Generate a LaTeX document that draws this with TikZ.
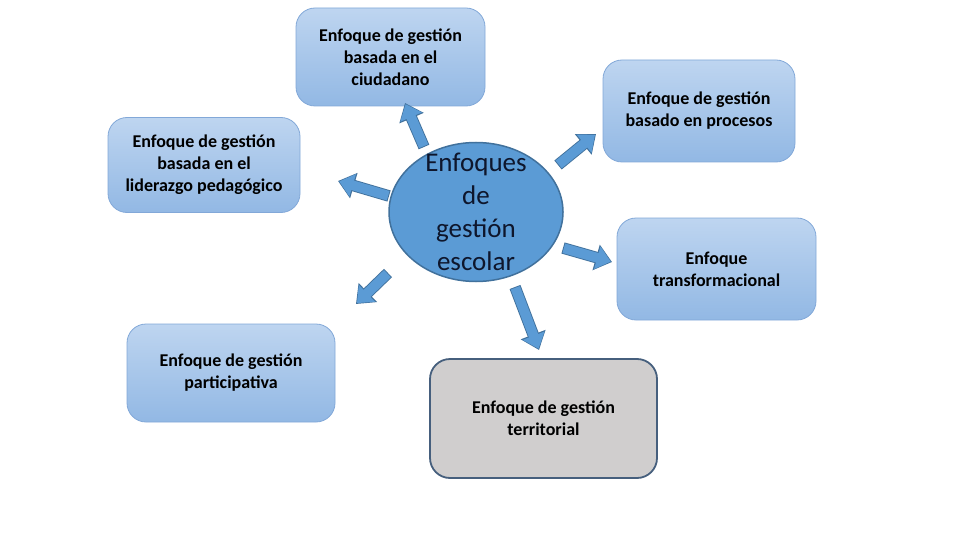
\documentclass[tikz,border=0pt]{standalone}
\usepackage{fontspec}
\setmainfont{Carlito}
\usetikzlibrary{arrows.meta,shapes.geometric}
\definecolor{boxtop}{RGB}{190,213,240}
\definecolor{boxbot}{RGB}{146,184,228}
\definecolor{boxline}{RGB}{130,168,216}
\definecolor{hubfill}{RGB}{91,155,213}
\definecolor{hubline}{RGB}{65,113,156}
\definecolor{hubtext}{RGB}{14,22,44}
\definecolor{grayfill}{RGB}{208,206,206}
\definecolor{grayline}{RGB}{70,95,125}

\begin{document}
\begin{tikzpicture}[x=1pt, y=-1pt,
  every node/.style={font=\bfseries\fontsize{18}{22}\selectfont, align=center},
  hub/.style={draw=hubline, line width=1.5pt, fill=hubfill, ellipse, inner sep=0pt,
    minimum width=174pt, minimum height=139pt},
  hubtxt/.style={text=hubtext, inner sep=0pt, font=\fontsize{27}{33}\selectfont},
  enf/.style={draw=boxline, line width=0.8pt, rounded corners=19pt,
    top color=boxtop, bottom color=boxbot, inner sep=0pt},
  terr/.style={draw=grayline, line width=1.8pt, rounded corners=20pt,
    fill=grayfill, inner sep=0pt},
  blkout/.style={draw=hubline, line width=11.6pt, -{Triangle[length=16.5pt,width=25.5pt]}},
  blkin/.style={draw=hubfill, line width=9.8pt, shorten <=0.9pt, shorten >=1.3pt,
    -{Triangle[length=14pt,width=22.5pt]}}]
\useasboundingbox (0,0) rectangle (960,540);
\node[hub] (hub) at (476,212) {};
\node[hubtxt] (hub-t) at (hub.center) {Enfoques\\de\\gestión\\escolar};
\node[enf, minimum width=189pt, minimum height=98pt] (ciud) at (390.5,57)
  {Enfoque de gestión\\basada en el\\ciudadano};
\node[enf, minimum width=192pt, minimum height=95pt] (lider) at (204,165)
  {Enfoque de gestión\\basada en el\\liderazgo pedagógico};
\node[enf, minimum width=192pt, minimum height=102pt] (proc) at (699,111)
  {Enfoque de gestión\\basado en procesos};
\node[enf, minimum width=199pt, minimum height=102pt] (transf) at (716.5,269)
  {Enfoque\\transformacional};
\node[enf, minimum width=208pt, minimum height=98pt] (partic) at (231,373)
  {Enfoque de gestión\\participativa};
\node[terr, minimum width=227pt, minimum height=119pt] (territ) at (543.5,418.5)
  {Enfoque de gestión\\territorial};
% block arrows
\coordinate (ciud-a) at (424,147);   \coordinate (ciud-b) at (405,103);
\coordinate (lider-a) at (389,196);  \coordinate (lider-b) at (338,181);
\coordinate (partic-a) at (388,273); \coordinate (partic-b) at (356,304);
\coordinate (territ-a) at (515,287); \coordinate (territ-b) at (539,350);
\coordinate (transf-a) at (563,248); \coordinate (transf-b) at (612,262);
\coordinate (proc-a) at (558,165);   \coordinate (proc-b) at (596,134);
\foreach \n in {ciud,lider,partic,territ,transf,proc}{
  \draw[blkout] (\n-a) -- (\n-b);
  \draw[blkin] (\n-a) -- (\n-b);
}
\end{tikzpicture}
\end{document}
